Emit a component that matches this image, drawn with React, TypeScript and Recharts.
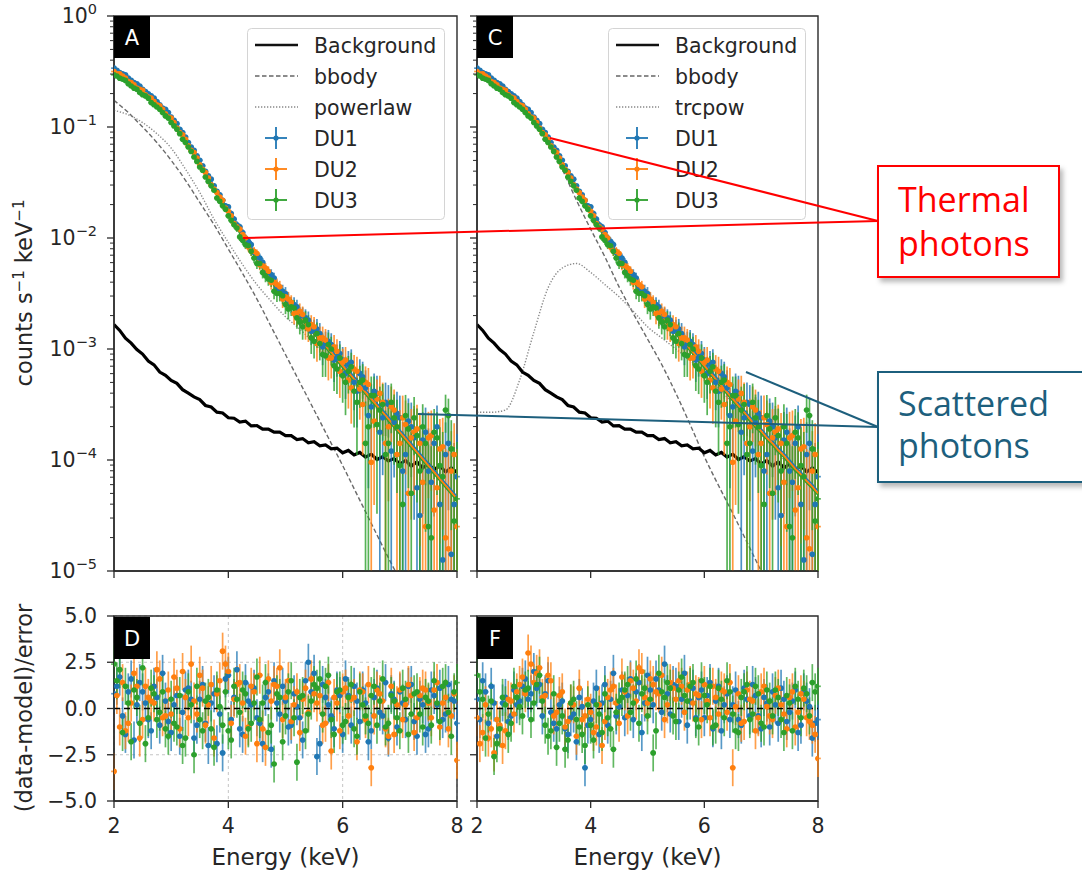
import React from 'react';
import {
  ComposedChart, Line, Scatter, XAxis, YAxis, ErrorBar, ReferenceLine,
  ReferenceArea, CartesianGrid, Legend,
} from 'recharts';

// ---------------- data ----------------
// energy bins (keV): bin set 1
const energy = [
  2.0, 2.1, 2.2, 2.3, 2.4, 2.5, 2.6, 2.7, 2.8, 2.9,
  3.0, 3.1, 3.2, 3.3, 3.4, 3.5, 3.6, 3.7, 3.8, 3.9,
  4.0, 4.1, 4.2, 4.3, 4.4, 4.5, 4.6, 4.7, 4.8, 4.9,
  5.0, 5.1, 5.2, 5.3, 5.4, 5.5, 5.6, 5.7, 5.8, 5.9,
  6.0, 6.1, 6.2, 6.3, 6.4, 6.5, 6.6, 6.7, 6.8, 6.9,
  7.0, 7.1, 7.2, 7.3, 7.4, 7.5, 7.6, 7.7, 7.8, 7.9, 8.0,
];
// bin set 2 (between the bins above)
const energyMid = [
  2.05, 2.15, 2.25, 2.35, 2.45, 2.55, 2.65, 2.75, 2.85, 2.95,
  3.05, 3.15, 3.25, 3.35, 3.45, 3.55, 3.65, 3.75, 3.85, 3.95,
  4.05, 4.15, 4.25, 4.35, 4.45, 4.55, 4.65, 4.75, 4.85, 4.95,
  5.05, 5.15, 5.25, 5.35, 5.45, 5.55, 5.65, 5.75, 5.85, 5.95,
  6.05, 6.15, 6.25, 6.35, 6.45, 6.55, 6.65, 6.75, 6.85, 6.95,
  7.05, 7.15, 7.25, 7.35, 7.45, 7.55, 7.65, 7.75, 7.85, 7.95,
];

// 1-sigma error as a fraction of the model, per bin
const relErr = [
  0.015, 0.016, 0.017, 0.018, 0.019, 0.020, 0.021, 0.022, 0.023, 0.024,
  0.026, 0.028, 0.030, 0.032, 0.035, 0.038, 0.041, 0.045, 0.049, 0.054,
  0.064, 0.069, 0.074, 0.080, 0.087, 0.095, 0.105, 0.118, 0.130, 0.145,
  0.160, 0.170, 0.180, 0.200, 0.220, 0.250, 0.270, 0.290, 0.310, 0.330,
  0.350, 0.380, 0.410, 0.440, 0.480, 0.520, 0.570, 0.620, 0.670, 0.730,
  0.790, 0.870, 0.960, 1.060, 1.160, 1.270, 1.420, 1.600, 1.800, 2.000, 2.250,
];

// log10 of total folded model (counts s^-1 keV^-1), panel A and panel C fits
const modelLogA = [
  -0.50, -0.53, -0.56, -0.60, -0.64, -0.68, -0.72, -0.77, -0.82, -0.87,
  -0.93, -1.00, -1.08, -1.16, -1.24, -1.33, -1.42, -1.51, -1.60, -1.68,
  -1.77, -1.85, -1.94, -2.02, -2.10, -2.18, -2.26, -2.33, -2.41, -2.48,
  -2.55, -2.61, -2.67, -2.73, -2.79, -2.85, -2.91, -2.97, -3.03, -3.09,
  -3.15, -3.21, -3.27, -3.33, -3.39, -3.45, -3.51, -3.57, -3.63, -3.69,
  -3.75, -3.81, -3.87, -3.93, -3.99, -4.05, -4.11, -4.17, -4.23, -4.29, -4.35,
];
const modelLogC = [
  -0.50, -0.53, -0.56, -0.60, -0.64, -0.68, -0.72, -0.77, -0.82, -0.87,
  -0.93, -1.00, -1.08, -1.16, -1.24, -1.33, -1.42, -1.51, -1.60, -1.68,
  -1.77, -1.85, -1.94, -2.02, -2.10, -2.18, -2.26, -2.33, -2.41, -2.48,
  -2.55, -2.61, -2.67, -2.73, -2.79, -2.85, -2.91, -2.97, -3.03, -3.09,
  -3.15, -3.21, -3.27, -3.33, -3.39, -3.45, -3.51, -3.57, -3.63, -3.69,
  -3.74, -3.80, -3.85, -3.91, -3.96, -4.02, -4.08, -4.13, -4.19, -4.24, -4.30,
];
const duNorm = [1.05, 1.0, 0.96];

// log10 of measured rates (counts s^-1 keV^-1), bin set 1
const du1Log = [
  -0.47, -0.51, -0.53, -0.58, -0.61, -0.66, -0.70, -0.74, -0.80, -0.84,
  -0.91, -0.97, -1.05, -1.14, -1.21, -1.30, -1.40, -1.47, -1.58, -1.66,
  -1.72, -1.83, -1.90, -2.00, -2.06, -2.17, -2.22, -2.31, -2.36, -2.47,
  -2.50, -2.60, -2.62, -2.70, -2.74, -2.83, -2.86, -2.95, -2.96, -3.08,
  -3.10, -3.14, -3.30, -3.22, -3.35, -3.52, -3.40, -3.62, -3.50, -3.66,
  -3.62, -3.95, -3.70, -4.25, -3.82, -4.10, -3.85, -4.40, -3.95, -4.85, -4.15,
];
const du2Log = [
  -0.50, -0.52, -0.56, -0.60, -0.65, -0.67, -0.73, -0.77, -0.81, -0.88,
  -0.92, -1.01, -1.07, -1.17, -1.23, -1.34, -1.41, -1.52, -1.59, -1.66,
  -1.76, -1.87, -1.92, -2.00, -2.12, -2.14, -2.25, -2.30, -2.40, -2.44,
  -2.53, -2.58, -2.70, -2.69, -2.82, -2.80, -2.90, -2.92, -3.08, -3.02,
  -3.12, -3.28, -3.18, -3.36, -3.30, -4.02, -3.45, -3.48, -3.70, -3.55,
  -3.85, -3.68, -3.80, -3.72, -4.20, -3.80, -4.45, -3.90, -4.70, -4.10, -4.60,
];
const du3Log = [
  -0.53, -0.56, -0.58, -0.63, -0.66, -0.71, -0.74, -0.80, -0.84, -0.90,
  -0.96, -1.02, -1.11, -1.18, -1.27, -1.36, -1.45, -1.53, -1.64, -1.71,
  -1.80, -1.88, -1.99, -2.06, -2.12, -2.23, -2.31, -2.37, -2.48, -2.50,
  -2.60, -2.62, -2.72, -2.80, -2.78, -2.93, -2.95, -3.06, -3.00, -3.18,
  -3.24, -3.20, -3.38, -3.30, -3.85, -3.42, -3.68, -3.50, -3.85, -3.62,
  -4.05, -3.60, -4.30, -3.78, -3.70, -4.60, -3.75, -4.05, -3.55, -3.90, -4.35,
];
// bin set 2
const du1LogMid = [
  -0.49, -0.52, -0.56, -0.60, -0.63, -0.68, -0.72, -0.77, -0.83, -0.87,
  -0.94, -1.02, -1.09, -1.18, -1.26, -1.35, -1.44, -1.53, -1.61, -1.71,
  -1.78, -1.88, -1.95, -2.03, -2.13, -2.18, -2.29, -2.33, -2.44, -2.48,
  -2.57, -2.60, -2.70, -2.72, -2.84, -2.82, -2.98, -2.93, -3.10, -3.04,
  -3.22, -3.12, -3.38, -3.25, -3.60, -3.38, -3.75, -3.48, -3.92, -3.58,
  -4.10, -3.65, -3.80, -4.50, -3.75, -4.20, -3.70, -4.90, -3.85, -4.40,
];
const du2LogMid = [
  -0.52, -0.54, -0.59, -0.62, -0.66, -0.71, -0.74, -0.80, -0.84, -0.91,
  -0.96, -1.05, -1.11, -1.21, -1.28, -1.38, -1.46, -1.56, -1.63, -1.73,
  -1.80, -1.90, -1.97, -2.08, -2.12, -2.24, -2.27, -2.40, -2.42, -2.55,
  -2.55, -2.68, -2.66, -2.80, -2.78, -2.95, -2.90, -3.08, -2.98, -3.20,
  -3.10, -3.35, -3.20, -3.50, -3.32, -3.65, -3.40, -3.85, -3.52, -3.95,
  -3.62, -4.30, -3.75, -3.85, -4.60, -3.78, -4.25, -3.88, -4.80, -3.95,
];
const du3LogMid = [
  -0.54, -0.57, -0.61, -0.65, -0.69, -0.72, -0.78, -0.82, -0.87, -0.92,
  -0.99, -1.06, -1.14, -1.22, -1.31, -1.39, -1.49, -1.57, -1.67, -1.74,
  -1.84, -1.91, -2.02, -2.07, -2.18, -2.23, -2.34, -2.38, -2.50, -2.52,
  -2.64, -2.63, -2.76, -2.74, -2.90, -2.86, -3.05, -2.96, -3.15, -3.08,
  -3.30, -3.16, -3.48, -3.28, -3.70, -3.42, -3.55, -3.95, -3.48, -3.70,
  -4.40, -3.72, -3.62, -4.10, -3.85, -4.70, -3.80, -4.15, -3.60, -4.55,
];

// background rate (counts s^-1 keV^-1)
const background = [
  1.66e-3, 1.47e-3, 1.25e-3, 1.13e-3, 9.9e-4, 9.0e-4, 7.8e-4, 7.2e-4, 6.2e-4, 5.8e-4,
  5.2e-4, 4.9e-4, 4.3e-4, 4.0e-4, 3.7e-4, 3.5e-4, 3.1e-4, 3.0e-4, 2.7e-4, 2.65e-4,
  2.4e-4, 2.38e-4, 2.2e-4, 2.24e-4, 2.03e-4, 2.04e-4, 1.90e-4, 1.90e-4, 1.78e-4, 1.78e-4,
  1.66e-4, 1.66e-4, 1.53e-4, 1.56e-4, 1.43e-4, 1.46e-4, 1.34e-4, 1.37e-4, 1.26e-4, 1.28e-4,
  1.16e-4, 1.22e-4, 1.11e-4, 1.17e-4, 1.06e-4, 1.13e-4, 1.01e-4, 1.07e-4, 9.8e-5, 1.03e-4,
  9.2e-5, 9.9e-5, 8.8e-5, 9.6e-5, 8.5e-5, 9.2e-5, 8.2e-5, 8.9e-5, 7.8e-5, 8.5e-5, 7.7e-5,
];

// model components (log10 rate) on a coarser grid
const compEnergy = [
  2.0, 2.25, 2.5, 2.75, 3.0, 3.25, 3.5, 3.75, 4.0, 4.25, 4.5, 4.75,
  5.0, 5.25, 5.5, 5.75, 6.0, 6.25, 6.5, 6.75, 7.0, 7.25, 7.5, 7.75, 8.0,
];
const bbodyLogA = [
  -0.76, -0.87, -1.00, -1.14, -1.30, -1.48, -1.68, -1.88, -2.10, -2.32, -2.55, -2.80,
  -3.05, -3.30, -3.55, -3.80, -4.05, -4.31, -4.57, -4.83, -5.08, -5.33, -5.58, -5.83, -6.08,
];
const powerlawLogA = [
  -0.85, -0.89, -0.96, -1.06, -1.19, -1.38, -1.59, -1.83, -2.04, -2.24, -2.42, -2.57,
  -2.71, -2.82, -2.95, -3.08, -3.21, -3.34, -3.48, -3.63, -3.77, -3.92, -4.07, -4.21, -4.35,
];
const bbodyLogC = [
  -0.50, -0.58, -0.68, -0.80, -0.94, -1.14, -1.38, -1.66, -1.92, -2.17, -2.44, -2.68,
  -2.91, -3.14, -3.40, -3.68, -3.97, -4.23, -4.48, -4.74, -5.00, -5.25, -5.50, -5.75, -6.00,
];
const trcpowLogC = [
  -3.57, -3.57, -3.55, -3.28, -2.85, -2.45, -2.27, -2.23, -2.31, -2.42, -2.53, -2.66,
  -2.80, -2.90, -3.00, -3.10, -3.22, -3.35, -3.49, -3.63, -3.77, -3.91, -4.05, -4.18, -4.31,
];

// residuals (data-model)/error, bin set 1
const resD1 = [
  0.8, 1.7, -1.4, 1.6, 0.2, 0.9, -0.6, 1.2, -0.9, 0.4,
  -1.3, 0.7, -0.2, 1.1, -1.6, 0.5, -0.8, 0.3, -1.9, -2.4,
  1.8, 0.6, -1.1, 1.4, 0.2, -0.5, -1.9, 0.9, 1.5, -0.3,
  0.4, -0.9, 0.1, -1.7, 2.5, 1.9, -1.9, 0.6, -0.4, 1.0,
  -1.4, 0.7, 1.2, -0.7, 0.3, -1.2, 1.1, -0.4, -1.6, 0.5,
  0.9, -0.6, 1.3, -1.5, 0.2, -1.1, 0.7, 1.1, -0.3, 0.5, -0.8,
];
const resD2 = [
  -3.4, -1.0, -1.2, 0.3, 1.2, -0.6, 0.6, 0.3, 1.6, -0.4,
  -0.3, 1.1, 2.0, -0.5, 0.4, 1.8, -0.9, 1.3, 0.8, 3.1,
  2.0, 0.5, 1.4, -1.5, 1.2, -1.9, -1.1, 1.6, 1.3, 2.2,
  0.6, -0.7, 0.9, 0.5, -0.2, 0.8, 0.7, -0.8, -2.3, 0.3,
  0.9, -0.4, 0.6, 1.0, -0.6, -3.2, 1.0, 0.4, -1.5, -1.4,
  1.0, 0.2, 0.7, -0.5, 1.1, 0.3, 1.0, -1.0, 0.6, -0.4, -2.8,
];
const resD3 = [
  2.4, 2.1, 1.2, -1.8, 0.6, 2.2, -0.5, 0.8, -0.2, -1.1,
  0.5, -1.0, -2.0, 0.9, -2.5, -0.6, 0.4, -1.1, 1.0, -0.9,
  -1.2, 1.2, -0.2, 0.8, -0.8, 1.7, 0.3, -1.3, -3.0, 0.6,
  -0.4, 1.5, -2.9, 0.7, -0.3, 1.3, 1.6, 1.2, -0.6, 0.9,
  -0.9, 0.6, -1.1, 0.9, -0.4, 0.7, -0.9, 1.6, -0.8, 0.4,
  -1.2, 0.5, -0.3, 0.9, -1.0, 0.4, 1.5, -0.7, 1.4, -1.5, 1.4,
];
const resF1 = [
  0.5, 1.5, -0.8, 0.3, -1.0, 0.6, -0.4, 0.2, 1.2, 0.5,
  2.0, 1.3, 0.8, -0.2, -1.1, 0.4, -1.4, -0.3, 0.6, -3.2,
  -0.6, 1.1, 0.3, -0.9, 1.9, 0.1, -0.5, 1.6, 0.9, -1.3,
  1.8, 0.2, 1.0, 2.4, -0.3, 1.2, 0.5, -0.9, 1.1, 0.6,
  -0.5, 1.4, 0.4, -1.2, 0.8, 0.2, -0.6, 1.1, -0.4, 0.7,
  -1.1, 0.3, 0.9, -0.8, 0.5, -0.2, 1.0, -0.9, 0.4, -1.6, -0.6,
];
const resF2 = [
  -0.5, -1.3, -1.6, -2.4, -0.9, -1.2, 0.4, 0.9, 1.7, 3.0,
  1.4, 2.2, 0.7, 1.5, -0.2, 0.9, -0.7, 0.2, 1.1, -0.4,
  -0.2, -1.0, -2.0, 0.6, 1.2, -0.8, 0.9, 1.5, 0.4, 2.0,
  0.3, 1.3, 0.8, -0.6, 1.4, 0.5, 1.2, 1.0, 0.3, 0.7,
  1.3, -0.5, 0.6, 1.0, -0.2, -3.2, 0.8, -0.7, 0.5, -1.2,
  0.9, 0.1, -0.6, 1.1, -0.3, 0.6, -1.0, 0.8, -0.5, -0.9, -2.7,
];
const resF3 = [
  1.8, 0.5, -0.3, -2.6, -1.1, 0.2, -0.8, 0.6, -0.4, 1.1,
  0.3, 1.8, -0.9, -1.2, -2.1, -0.4, -1.7, 0.5, -1.0, -2.0,
  -0.9, 0.2, -1.3, -0.5, -2.2, 0.4, 1.0, -0.2, 1.6, 0.8,
  -0.4, -2.4, 1.9, 0.6, 1.1, -0.7, 1.7, 0.4, 1.4, -1.0,
  0.7, 1.2, -0.9, 0.5, 1.5, -0.3, -1.3, 0.9, -0.6, 1.2,
  -0.8, 1.0, -0.4, 0.6, -1.3, 0.3, 1.2, -0.5, 0.8, 1.4, 1.2,
];
// residuals, bin set 2
const resD1Mid = [
  1.2, -0.4, 0.9, -1.7, 1.4, 0.3, -1.2, 0.6, 1.9, -0.7,
  0.2, -1.5, 1.0, 0.5, -0.9, 1.3, -2.0, 0.8, -0.3, 1.6,
  -0.6, 2.1, -1.4, 0.4, 1.1, -0.8, 0.6, -2.2, 0.3, 1.2,
  -1.0, 0.8, -0.5, 1.5, 0.9, -2.6, 1.3, 0.2, -1.1, 0.7,
  1.6, -0.9, 0.4, 1.0, -1.8, 0.6, -0.2, 1.4, 0.8, -1.0,
  0.3, 1.2, -0.7, 0.5, -1.4, 1.0, 0.2, -0.6, 1.3, 0.4,
];
const resD2Mid = [
  0.7, 1.4, -0.8, 1.9, -1.6, 1.2, 0.4, 2.1, -0.5, 1.0,
  1.7, -1.1, 0.6, 2.4, -0.3, 1.1, 0.2, -1.6, 1.5, 2.4,
  -0.8, 1.3, 0.3, -1.0, 0.9, 1.8, -2.1, 0.4, 1.2, -0.6,
  1.5, 0.2, -1.3, 1.1, 1.6, 0.3, -0.9, 1.4, 0.6, -1.2,
  1.1, 0.5, -1.8, 0.9, 1.3, -0.4, 0.8, -1.1, 1.2, 0.2,
  -0.6, 1.3, -1.3, 0.7, 1.0, -0.5, 1.4, 0.3, -1.1, 0.8,
];
const resD3Mid = [
  1.5, -1.3, 0.3, 1.0, -0.8, -1.9, 1.1, -0.6, 0.9, -1.5,
  -0.8, 0.7, -1.6, 0.2, 1.2, -1.2, 0.6, -2.1, 0.1, 0.9,
  -1.7, 0.5, 1.0, -1.1, 0.3, -0.6, 1.4, -0.9, 0.8, -1.8,
  0.9, -0.5, 0.6, -1.2, 0.4, 1.1, -0.3, 1.8, -1.4, 1.0,
  -0.7, 1.3, -1.5, 0.2, -0.8, 1.2, 0.4, -1.0, 0.7, -0.5,
  1.1, -1.4, 0.8, -0.3, 0.6, -0.9, 0.3, 1.2, -0.2, 0.9,
];
const resF1Mid = [
  -0.6, 0.9, 1.2, -1.5, 0.3, -0.7, 1.0, 0.4, 1.6, 0.8,
  1.1, -0.4, 1.5, -0.8, 0.2, -1.1, -0.5, -1.8, 0.1, -0.9,
  0.4, -1.4, 1.3, 0.5, -0.4, 1.0, 0.7, -0.6, 1.4, 0.3,
  1.0, 1.6, -0.2, 0.8, 1.3, -0.7, 1.9, 0.4, -0.5, 1.0,
  0.7, -1.1, 1.2, 0.2, -0.6, 1.0, -0.9, 0.5, 1.3, -0.4,
  0.6, -1.0, 0.2, 1.1, -0.7, 0.4, -1.3, 0.9, 0.1, -0.8,
];
const resF2Mid = [
  -1.9, 0.2, -1.1, -0.6, -2.0, 0.5, -0.3, 1.3, 0.8, 2.4,
  1.9, 0.6, 1.8, -0.4, 0.7, -1.0, 0.3, -1.5, -0.6, 0.5,
  -1.3, 0.2, -0.7, 1.0, 0.3, 1.7, -0.4, 1.1, 2.2, 0.6,
  1.6, 0.9, 1.8, 0.2, 1.1, 1.5, -0.2, 1.3, 0.8, -0.6,
  0.4, 1.2, -0.3, 0.9, 1.4, 0.1, -0.8, 1.0, 0.4, -0.5,
  1.2, -0.4, 0.7, 0.2, -1.1, 0.9, -0.2, 0.5, -0.7, -1.4,
];
const resF3Mid = [
  0.9, -1.6, 0.4, -1.9, 0.6, -1.4, 1.2, 0.1, 1.0, -0.6,
  1.3, 0.4, -1.5, 0.8, -0.8, -2.2, 0.3, -0.6, -1.4, 0.2,
  -1.7, -0.3, 0.8, -1.1, -0.2, 0.6, 1.3, 0.3, -0.8, 1.1,
  0.5, -1.2, 0.9, 1.4, -0.4, 1.0, 0.7, 1.2, -0.6, 1.5,
  0.2, -1.0, 1.1, -0.5, 0.9, -1.2, 0.6, 1.3, -0.3, 0.8,
  -1.0, 0.4, 1.0, -0.6, 0.7, -1.2, 0.5, 1.1, -0.4, 0.9,
];

// ticks & labels
const logMajors = [1e-5, 1e-4, 1e-3, 1e-2, 1e-1, 1];
const logExpLabels = ['−5', '−4', '−3', '−2', '−1', '0'];
const resTicks = [-5, -2.5, 0, 2.5, 5];
const resTickLabels = ['−5.0', '−2.5', '0.0', '2.5', '5.0'];
const eTicks = [2, 4, 6, 8];
const eTickLabels = ['2', '4', '6', '8'];
const duNames = ['DU1', 'DU2', 'DU3'];
const legendNamesA = ['Background', 'bbody', 'powerlaw', 'DU1', 'DU2', 'DU3'];
const legendNamesC = ['Background', 'bbody', 'trcpow', 'DU1', 'DU2', 'DU3'];

// ---------------- styling ----------------
const AXIS = '#2a2a2a';
const TXT = '#262626';
const DU_COLORS = ['#1f77b4', '#ff7f0e', '#2ca02c'];
const BB_DASH = '4.5 2.5';
const PL_DASH = '1.3 1.7';
const FONT = 'DejaVu Sans';
const FLOOR = 1e-5;

// ---------------- tables built from the arrays ----------------
const rate = (l: number) => Math.pow(10, l);
const logTicks: number[] = logMajors.flatMap((d, k) =>
  k === logMajors.length - 1 ? [d] : [1, 2, 3, 4, 5, 6, 7, 8, 9].map((m) => m * d));

const specRow = (e: number, lg: number, i: number) => {
  const v = rate(lg);
  const sig = relErr[i] * rate(modelLogA[i]);
  return { e, v, ey: [Math.min(sig, v - FLOOR), sig], ex: 0.05 };
};
const spectra = [[du1Log, du1LogMid], [du2Log, du2LogMid], [du3Log, du3LogMid]].map(([a, b]) => [
  ...energy.map((e, i) => specRow(e, a[i], i)),
  ...energyMid.map((e, i) => specRow(e, b[i], i)),
]);

const modelRows = (mlog: number[]) => energy.map((e, i) => ({
  e, m0: rate(mlog[i]) * duNorm[0], m1: rate(mlog[i]) * duNorm[1], m2: rate(mlog[i]) * duNorm[2],
}));
const modelRowsA = modelRows(modelLogA);
const modelRowsC = modelRows(modelLogC);
const bkgRows = energy.map((e, i) => ({ e, b: background[i] }));
const compRowsA = compEnergy.map((e, i) => ({ e, c1: rate(bbodyLogA[i]), c2: rate(powerlawLogA[i]) }));
const compRowsC = compEnergy.map((e, i) => ({ e, c1: rate(bbodyLogC[i]), c2: rate(trcpowLogC[i]) }));
const resRows = (r: number[], rm: number[]) => [
  ...energy.map((e, i) => ({ e, v: r[i], ey: 1, ex: 0.05 })),
  ...energyMid.map((e, i) => ({ e, v: rm[i], ey: 1, ex: 0.05 })),
];
const resD = [resRows(resD1, resD1Mid), resRows(resD2, resD2Mid), resRows(resD3, resD3Mid)];
const resF = [resRows(resF1, resF1Mid), resRows(resF2, resF2Mid), resRows(resF3, resF3Mid)];

// ---------------- tick renderers ----------------
function LogYTick(props: any) {
  const { x, y, payload, showLabel } = props;
  const idx = logMajors.findIndex((m) => Math.abs(m - payload.value) / m < 1e-6);
  const major = idx >= 0;
  return (
    <g>
      <line x1={x - (major ? 7 : 4)} x2={x} y1={y} y2={y} stroke={AXIS} strokeWidth={major ? 1.3 : 1} />
      {major && showLabel ? (
        <text x={x - 17} y={y + 7} textAnchor="end" fontSize={20.5} fill={TXT} fontFamily={FONT}>
          10<tspan dy={-9} fontSize={14.5}>{logExpLabels[idx]}</tspan>
        </text>
      ) : null}
    </g>
  );
}
function ResYTick(props: any) {
  const { x, y, payload, showLabel } = props;
  const idx = resTicks.indexOf(payload.value);
  return (
    <g>
      <line x1={x - 7} x2={x} y1={y} y2={y} stroke={AXIS} strokeWidth={1.3} />
      {showLabel && idx >= 0 ? (
        <text x={x - 17} y={y + 7} textAnchor="end" fontSize={20.5} fill={TXT} fontFamily={FONT}>
          {resTickLabels[idx]}
        </text>
      ) : null}
    </g>
  );
}
function EXTick(props: any) {
  const { x, y, payload, showLabel } = props;
  const idx = eTicks.indexOf(payload.value);
  return (
    <g>
      <line x1={x} x2={x} y1={y} y2={y + 7} stroke={AXIS} strokeWidth={1.3} />
      {showLabel && idx >= 0 ? (
        <text x={x} y={y + 32} textAnchor="middle" fontSize={20.5} fill={TXT} fontFamily={FONT}>
          {eTickLabels[idx]}
        </text>
      ) : null}
    </g>
  );
}

// ---------------- legend ----------------
function LegendBox({ names }: { names: string[] }) {
  const W = 198, H = 192;
  return (
    <div style={{ width: W, height: H, position: 'relative' }}>
      <svg width={W} height={H} style={{ position: 'absolute', left: 0, top: 0 }}>
        <rect x={0.5} y={0.5} width={W - 1} height={H - 1} rx={4} fill="rgba(255,255,255,0.85)" stroke="#d4d4d4" />
        {names.map((n, i) => {
          const cy = 17 + 31 * i;
          let handle: React.ReactNode;
          if (i === 0) handle = <line x1={8} x2={51} y1={cy} y2={cy} stroke="#111" strokeWidth={2.4} />;
          else if (i === 1) handle = <line x1={8} x2={51} y1={cy} y2={cy} stroke="#666" strokeWidth={1.5} strokeDasharray={BB_DASH} />;
          else if (i === 2) handle = <line x1={8} x2={51} y1={cy} y2={cy} stroke="#888" strokeWidth={1.5} strokeDasharray={PL_DASH} />;
          else {
            const c = DU_COLORS[i - 3];
            handle = (
              <g>
                <line x1={29} x2={29} y1={cy - 11} y2={cy + 11} stroke={c} strokeWidth={1.8} />
                <line x1={18} x2={40} y1={cy} y2={cy} stroke={c} strokeWidth={1.8} />
                <circle cx={29} cy={cy} r={2.6} fill={c} />
              </g>
            );
          }
          return (
            <g key={n}>
              {handle}
              <text x={67} y={cy + 7.5} fontSize={20.5} fill={TXT} fontFamily={FONT}>{n}</text>
            </g>
          );
        })}
      </svg>
    </div>
  );
}

// ---------------- panels ----------------
type PanelGeom = { left: number; width: number; yAxisWidth: number; marginRight: number; showY: boolean };
const GEOM_L: PanelGeom = { left: 0, width: 470, yAxisWidth: 114, marginRight: 13, showY: true };
const GEOM_R: PanelGeom = { left: 470, width: 360, yAxisWidth: 7, marginRight: 12, showY: false };

const dot = (color: string) => (p: any) => <circle cx={p.cx} cy={p.cy} r={2.8} fill={color} />;

function SpectrumPanel({ g, modelRowsP, compRows, legendNames, legendLeft }: any) {
  return (
    <div style={{ position: 'absolute', left: g.left, top: 0 }}>
      <ComposedChart width={g.width} height={600} margin={{ top: 16, right: g.marginRight, bottom: 0, left: 0 }}>
        <XAxis dataKey="e" type="number" domain={[2, 8]} ticks={eTicks} allowDataOverflow height={29}
          tickSize={0} tickMargin={0} tickLine={false} interval={0}
          axisLine={{ stroke: AXIS, strokeWidth: 1.4 }}
          tick={(p: any) => <EXTick {...p} showLabel={false} />} />
        <YAxis type="number" scale="log" domain={[FLOOR, 1]} ticks={logTicks} allowDataOverflow width={g.yAxisWidth}
          tickSize={0} tickMargin={0} tickLine={false} interval={0}
          axisLine={{ stroke: AXIS, strokeWidth: 1.4 }}
          tick={(p: any) => <LogYTick {...p} showLabel={g.showY} />} />
        <Line data={compRows} dataKey="c1" type="monotone" stroke="#6a6a6a" strokeWidth={1.4}
          strokeDasharray={BB_DASH} dot={false} activeDot={false} isAnimationActive={false} legendType="none" />
        <Line data={compRows} dataKey="c2" type="monotone" stroke="#8a8a8a" strokeWidth={1.4}
          strokeDasharray={PL_DASH} dot={false} activeDot={false} isAnimationActive={false} legendType="none" />
        <Line data={bkgRows} dataKey="b" type="linear" stroke="#000" strokeWidth={3.2}
          dot={false} activeDot={false} isAnimationActive={false} legendType="none" />
        {spectra.map((rows, k) => (
          <Scatter key={duNames[k]} name={duNames[k]} data={rows} dataKey="v" fill={DU_COLORS[k]}
            shape={dot(DU_COLORS[k])} isAnimationActive={false} legendType="none">
            <ErrorBar dataKey="ey" direction="y" width={0} stroke={DU_COLORS[k]} strokeWidth={1.7} strokeOpacity={0.8} />
            <ErrorBar dataKey="ex" direction="x" width={0} stroke={DU_COLORS[k]} strokeWidth={1.7} strokeOpacity={0.8} />
          </Scatter>
        ))}
        <Line data={modelRowsP} dataKey="m0" type="linear" stroke={DU_COLORS[0]} strokeWidth={1.6}
          dot={false} activeDot={false} isAnimationActive={false} legendType="none" />
        <Line data={modelRowsP} dataKey="m2" type="linear" stroke={DU_COLORS[2]} strokeWidth={1.6}
          dot={false} activeDot={false} isAnimationActive={false} legendType="none" />
        <Line data={modelRowsP} dataKey="m1" type="linear" stroke={DU_COLORS[1]} strokeWidth={1.8}
          dot={false} activeDot={false} isAnimationActive={false} legendType="none" />
        <ReferenceArea x1={2} x2={8} y1={FLOOR} y2={1} fill="none" fillOpacity={0} stroke={AXIS} strokeWidth={1.4} ifOverflow="visible" />
        <Legend layout="vertical" align="center" verticalAlign="middle"
          wrapperStyle={{ position: 'absolute', left: legendLeft, top: 28, width: 198, height: 192 }}
          content={() => <LegendBox names={legendNames} />} />
      </ComposedChart>
    </div>
  );
}

function ResidualPanel({ g, rows, grid }: any) {
  return (
    <div style={{ position: 'absolute', left: g.left, top: 600 }}>
      <ComposedChart width={g.width} height={270} margin={{ top: 16, right: g.marginRight, bottom: 0, left: 0 }}>
        {grid ? <CartesianGrid stroke="#c4c4c4" strokeDasharray="3 3" strokeWidth={1} /> : null}
        <XAxis dataKey="e" type="number" domain={[2, 8]} ticks={eTicks} allowDataOverflow height={69}
          tickSize={0} tickMargin={0} tickLine={false} interval={0}
          axisLine={{ stroke: AXIS, strokeWidth: 1.4 }}
          tick={(p: any) => <EXTick {...p} showLabel />} />
        <YAxis type="number" domain={[-5, 5]} ticks={resTicks} allowDataOverflow width={g.yAxisWidth}
          tickSize={0} tickMargin={0} tickLine={false} interval={0}
          axisLine={{ stroke: AXIS, strokeWidth: 1.4 }}
          tick={(p: any) => <ResYTick {...p} showLabel={g.showY} />} />
        {rows.map((r: any[], k: number) => (
          <Scatter key={duNames[k]} name={duNames[k]} data={r} dataKey="v" fill={DU_COLORS[k]}
            shape={dot(DU_COLORS[k])} isAnimationActive={false} legendType="none">
            <ErrorBar dataKey="ey" direction="y" width={0} stroke={DU_COLORS[k]} strokeWidth={1.7} strokeOpacity={0.75} />
            <ErrorBar dataKey="ex" direction="x" width={0} stroke={DU_COLORS[k]} strokeWidth={1.7} strokeOpacity={0.75} />
          </Scatter>
        ))}
        <ReferenceLine y={0} stroke="#000" strokeWidth={1.6} strokeDasharray="6 4" />
        <ReferenceArea x1={2} x2={8} y1={-5} y2={5} fill="none" fillOpacity={0} stroke={AXIS} strokeWidth={1.4} ifOverflow="visible" />
      </ComposedChart>
    </div>
  );
}

// ---------------- overlay (titles, panel tags, callouts) ----------------
const PLOT_LEFT = [114, 477];
const PLOT_TOP = [16, 617];
const PANEL_TAGS = [['A', 'C'], ['D', 'F']];
const THERMAL = '#ff0000';
const SCATTER = '#1d5f7d';

function Overlay() {
  return (
    <svg width={1082} height={870} style={{ position: 'absolute', left: 0, top: 0, pointerEvents: 'none' }}>
      <defs>
        <filter id="boxShadow" x="-10%" y="-10%" width="130%" height="140%">
          <feDropShadow dx="3" dy="4" stdDeviation="2.5" floodColor="#000" floodOpacity="0.28" />
        </filter>
      </defs>
      {PANEL_TAGS.map((row, r) => row.map((t, c) => (
        <g key={t}>
          <rect x={PLOT_LEFT[c]} y={PLOT_TOP[r]} width={36} height={42} fill="#000" />
          <text x={PLOT_LEFT[c] + 18} y={PLOT_TOP[r] + 29} textAnchor="middle" fontSize={21} fill="#fff" fontFamily={FONT}>{t}</text>
        </g>
      )))}
      <text transform="translate(32,293) rotate(-90)" textAnchor="middle" fontSize={22.5} fill={TXT} fontFamily={FONT}>
        counts s<tspan dy={-8} fontSize={15}>−1</tspan><tspan dy={8}> keV</tspan><tspan dy={-8} fontSize={15}>−1</tspan>
      </text>
      <text transform="translate(32,708) rotate(-90)" textAnchor="middle" fontSize={22.5} fill={TXT} fontFamily={FONT}>
        (data-model)/error
      </text>
      <text x={285.5} y={865} textAnchor="middle" fontSize={23} fill={TXT} fontFamily={FONT}>Energy (keV)</text>
      <text x={647.5} y={865} textAnchor="middle" fontSize={23} fill={TXT} fontFamily={FONT}>Energy (keV)</text>

      <line x1={243} y1={238} x2={878} y2={221} stroke={THERMAL} strokeWidth={2} />
      <line x1={550} y1={138} x2={878} y2={221} stroke={THERMAL} strokeWidth={2} />
      <line x1={418} y1={414} x2={878} y2={427} stroke={SCATTER} strokeWidth={2} />
      <line x1={746} y1={372} x2={878} y2={427} stroke={SCATTER} strokeWidth={2} />

      <rect x={878} y={166} width={181} height={111} fill="#fff" stroke={THERMAL} strokeWidth={2} filter="url(#boxShadow)" />
      <text x={898} y={212} fontSize={34} fill={THERMAL} fontFamily="Open Sans">Thermal</text>
      <text x={898} y={256} fontSize={34} fill={THERMAL} fontFamily="Open Sans">photons</text>

      <rect x={878} y={372} width={215} height={110} fill="#fff" stroke={SCATTER} strokeWidth={2} filter="url(#boxShadow)" />
      <text x={898} y={416} fontSize={34} fill={SCATTER} fontFamily="Open Sans">Scattered</text>
      <text x={898} y={458} fontSize={34} fill={SCATTER} fontFamily="Open Sans">photons</text>
    </svg>
  );
}

export default function App() {
  return (
    <div style={{ position: 'absolute', left: 0, top: 0, width: 1082, height: 870, background: '#fff', fontFamily: FONT, overflow: 'hidden' }}>
      <SpectrumPanel g={GEOM_L} modelRowsP={modelRowsA} compRows={compRowsA} legendNames={legendNamesA} legendLeft={247} />
      <SpectrumPanel g={GEOM_R} modelRowsP={modelRowsC} compRows={compRowsC} legendNames={legendNamesC} legendLeft={138} />
      <ResidualPanel g={GEOM_L} rows={resD} grid />
      <ResidualPanel g={GEOM_R} rows={resF} grid={false} />
      <Overlay />
    </div>
  );
}
